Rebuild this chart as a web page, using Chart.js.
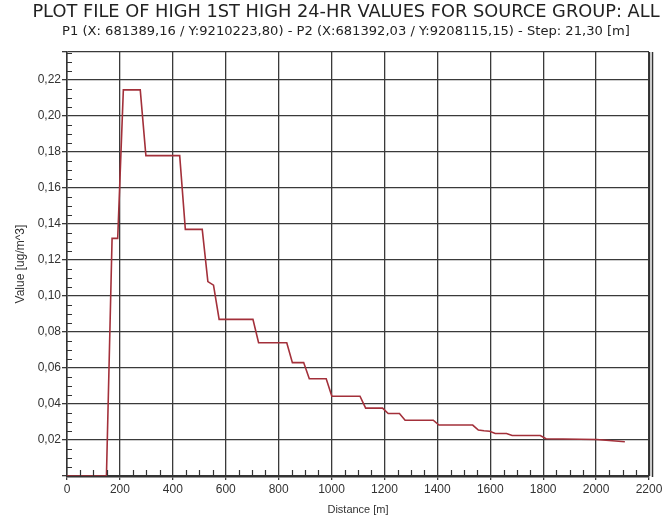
<!DOCTYPE html>
<html>
<head>
<meta charset="utf-8">
<script src="https://cdn.jsdelivr.net/npm/chart.js@4/dist/chart.umd.min.js"></script>
<style>
  body { margin: 0; background: #fff; }
</style>
</head>
<body>
<canvas id="myChart" width="665" height="517"></canvas>
<script>
// distance along the line P1 -> P2 (m), breakpoints of the stepped profile
var distances = [0, 149.1, 170.4, 191.7, 213.0, 276.9, 298.2, 426.0, 447.3, 511.2,
                 532.5, 553.8, 575.1, 702.9, 724.2, 830.7, 852.0, 894.6, 915.9, 979.8,
                 1001.1, 1107.6, 1128.9, 1192.8, 1214.1, 1256.7, 1278.0, 1384.5, 1405.8, 1533.6,
                 1554.9, 1576.2, 1597.5, 1618.8, 1661.4, 1682.7, 1789.2, 1810.5, 2002.2, 2108.7];
var values = [0, 0, 0.132, 0.132, 0.2145, 0.2145, 0.178, 0.178, 0.137, 0.137,
              0.108, 0.106, 0.087, 0.087, 0.074, 0.074, 0.063, 0.063, 0.054, 0.054,
              0.0443, 0.0443, 0.0377, 0.0377, 0.0347, 0.0347, 0.031, 0.031, 0.0283, 0.0283,
              0.0255, 0.0251, 0.0249, 0.0236, 0.0236, 0.0225, 0.0225, 0.0207, 0.0203, 0.019];

var titleText = "PLOT FILE OF HIGH 1ST HIGH 24-HR VALUES FOR SOURCE GROUP: ALL";
var subtitleText = "P1 (X: 681389,16 / Y:9210223,80) - P2 (X:681392,03 / Y:9208115,15) - Step: 21,30 [m]";

var points = distances.map(function (d, i) { return {x: d, y: values[i]}; });
var fontFam = "'Liberation Sans', Arial, sans-serif";
var wideFam = "'DejaVu Sans', sans-serif";

// minor ticks + heavy right border, like the original plot
var minorTicks = {
  id: "minorTicks",
  afterDraw: function (chart) {
    var ctx = chart.ctx, a = chart.chartArea;
    var xs = chart.scales.x, ys = chart.scales.y;
    ctx.save();
    ctx.strokeStyle = "#333";
    ctx.lineWidth = 1.2;
    ctx.beginPath();
    for (var v = 50; v < 2200; v += 50) {
      if (v % 200 === 0) continue;
      var px = Math.round(xs.getPixelForValue(v)) + 0.5;
      ctx.moveTo(px, a.bottom);
      ctx.lineTo(px, a.bottom - 6);
    }
    for (var k = 1; k * 0.005 < ys.max; k++) {
      if (k % 4 === 0) continue;
      var py = Math.round(ys.getPixelForValue(k * 0.005)) + 0.5;
      ctx.moveTo(a.left, py);
      ctx.lineTo(a.left + 5, py);
    }
    ctx.stroke();
    ctx.lineWidth = 1.5;
    ctx.beginPath();
    ctx.moveTo(a.right + 0.5, a.top);
    ctx.lineTo(a.right + 0.5, a.bottom);
    ctx.moveTo(a.right + 3.5, a.top);
    ctx.lineTo(a.right + 3.5, a.bottom + 1);
    ctx.stroke();
    ctx.restore();
  }
};

new Chart("myChart", {
  type: "line",
  data: {
    datasets: [{
      data: points,
      borderColor: "#a3303a",
      borderWidth: 1.6,
      pointRadius: 0,
      tension: 0,
      fill: false
    }]
  },
  options: {
    responsive: false,
    animation: false,
    layout: {padding: {left: 28, right: 1, top: 0, bottom: 0}},
    plugins: {
      legend: {display: false},
      tooltip: {enabled: false},
      title: {
        display: true,
        text: titleText,
        color: "#222",
        font: {family: wideFam, size: 17.8, weight: "normal"},
        padding: {top: 2, bottom: 0}
      },
      subtitle: {
        display: true,
        text: subtitleText,
        color: "#222",
        font: {family: wideFam, size: 13.1, weight: "normal"},
        padding: {top: 0, bottom: 13}
      }
    },
    scales: {
      x: {
        type: "linear",
        min: 0,
        max: 2200,
        afterFit: function (s) { s.height = 41; s.paddingRight = 16; },
        ticks: {
          stepSize: 200,
          maxRotation: 0,
          padding: 2,
          color: "#333",
          font: {family: fontFam, size: 12},
          callback: function (v) { return String(v); }
        },
        grid: {color: "#3a3a3a", lineWidth: 1.3, tickLength: 4},
        border: {color: "#333", width: 2.5},
        title: {
          display: true,
          text: "Distance [m]",
          color: "#333",
          font: {family: fontFam, size: 11},
          padding: {top: 0, bottom: 0}
        }
      },
      y: {
        min: 0,
        max: 0.2355,
        afterFit: function (s) { s.width = 39; },
        ticks: {
          stepSize: 0.02,
          padding: 1,
          color: "#333",
          font: {family: fontFam, size: 12},
          callback: function (v) {
            var r = Math.round(v * 100);
            if (r === 0 || Math.abs(v * 100 - r) > 0.001 || r % 2 !== 0) return "";
            return (r / 100).toFixed(2).replace(".", ",");
          }
        },
        grid: {color: "#3a3a3a", lineWidth: 1.3, tickLength: 5},
        border: {color: "#333", width: 1.5},
        title: {
          display: true,
          text: "Value [ug/m^3]",
          color: "#333",
          font: {family: fontFam, size: 12},
          padding: {top: -15, bottom: 0}
        }
      }
    }
  },
  plugins: [minorTicks]
});
</script>
</body>
</html>
